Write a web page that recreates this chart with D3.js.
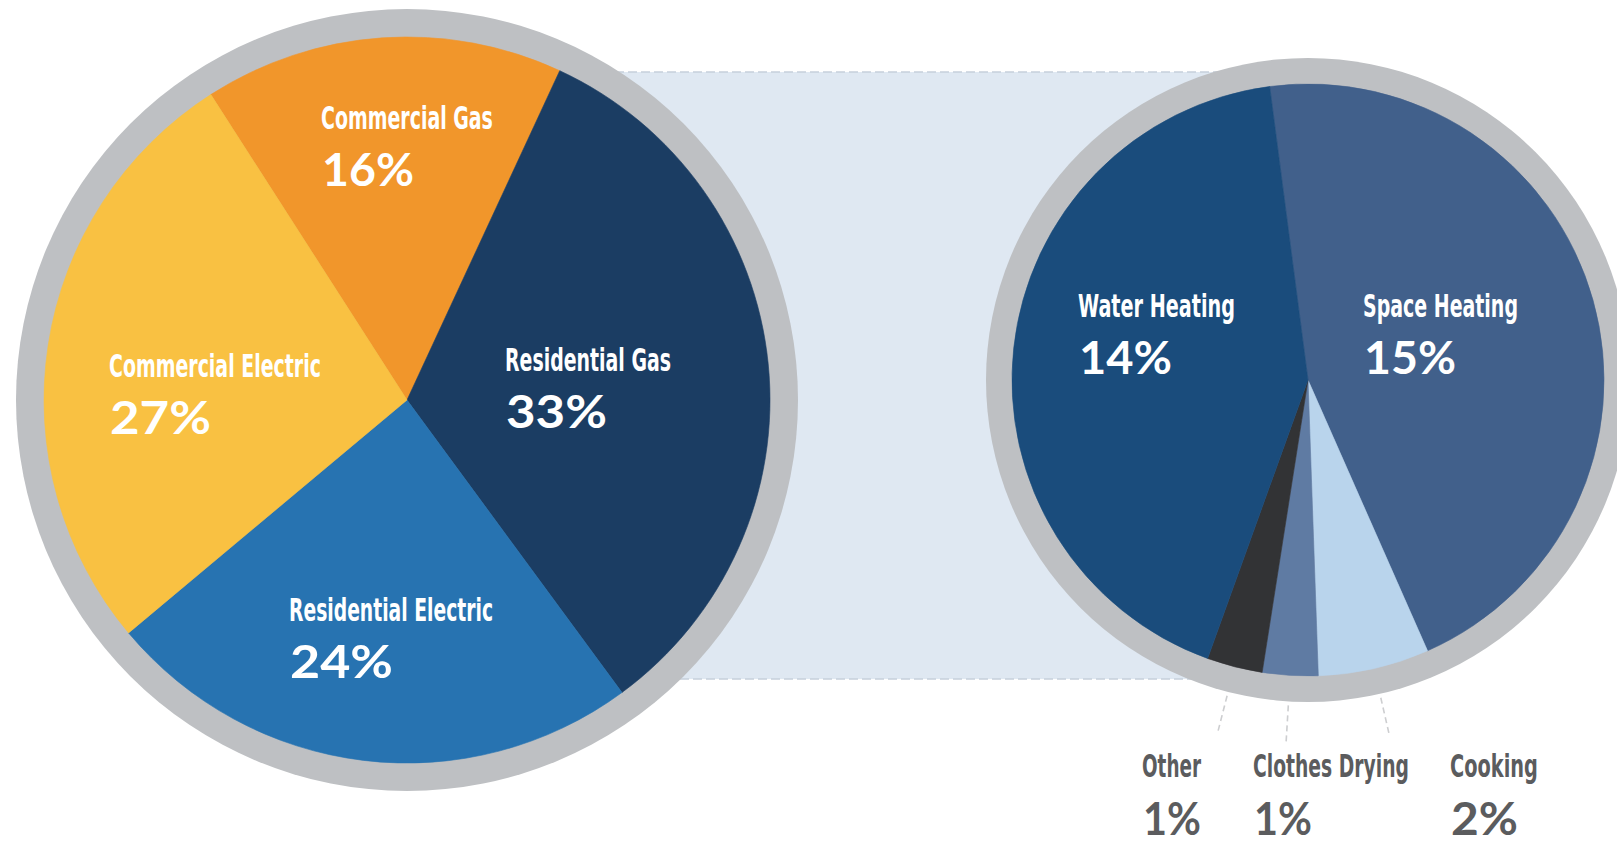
<!DOCTYPE html>
<html>
<head>
<meta charset="utf-8">
<script src="https://cdn.jsdelivr.net/npm/d3@7"></script>
<style>
  html, body { margin: 0; padding: 0; background: #ffffff; }
  svg { display: block; }
</style>
</head>
<body>
<script>
// ---------------- DATA ----------------
const mainCategories = ["Commercial Gas", "Residential Gas", "Residential Electric", "Commercial Electric"];
const mainValues = [16, 33, 24, 27];

const detailCategories = ["Space Heating", "Cooking", "Clothes Drying", "Other", "Water Heating"];
const detailValues = [15, 2, 1, 1, 14];

// ---------------- STYLE / LAYOUT ----------------
const W = 1617, H = 864;
const mainColors = ["#f1962b", "#1b3d63", "#2773b1", "#f9c142"];
const detailColors = ["#41608b", "#b9d4ec", "#5f7ba3", "#323335", "#1a4c7c"];

const L = { cx: 407, cy: 400, r: 363, ring: 391, start: -0.571 };
const R = { cx: 1308, cy: 380, r: 296, ring: 322, start: -0.13 };

// label placement relative to pie centre (layout only)
const mainLabelLayout = {
  "Commercial Gas":      { dx: -86,  dy: -271, nw: 172, pw: 92 },
  "Residential Gas":     { dx: 98,   dy: -29,  nw: 166, pw: 101 },
  "Residential Electric":{ dx: -118, dy: 221,  nw: 204, pw: 103 },
  "Commercial Electric": { dx: -298, dy: -23,  nw: 212, pw: 101 }
};
const detailLabelLayout = {
  "Space Heating":  { dx: 55,   dy: -63, nw: 155, pw: 92, out: false },
  "Cooking":        { dx: 142,  dy: 397, nw: 88,  pw: 67, out: true },
  "Clothes Drying": { dx: -55,  dy: 397, nw: 156, pw: 58, out: true },
  "Other":          { dx: -166, dy: 397, nw: 59,  pw: 58, out: true },
  "Water Heating":  { dx: -230, dy: -63, nw: 157, pw: 93, out: false }
};

const nameFont = "'Liberation Sans Narrow', 'DejaVu Sans Condensed', 'Roboto', sans-serif";
const pctFont = "'Lato', 'Open Sans', 'DejaVu Sans', sans-serif";
const nameSize = 32, pctSize = 45, gap = 57;

const svg = d3.select("body").append("svg")
  .attr("width", W).attr("height", H)
  .attr("viewBox", `0 0 ${W} ${H}`);

// ---------------- connecting band ----------------
const bandTop = 72, bandBottom = 679;
svg.append("rect")
  .attr("x", L.cx).attr("y", bandTop)
  .attr("width", R.cx - L.cx).attr("height", bandBottom - bandTop)
  .attr("fill", "#dfe8f2");
[bandTop, bandBottom].forEach(y => {
  svg.append("line")
    .attr("x1", L.cx).attr("x2", R.cx)
    .attr("y1", y).attr("y2", y)
    .attr("stroke", "#c6d0dc").attr("stroke-width", 1.3)
    .attr("stroke-dasharray", "9 4");
});

// ---------------- pie drawing helper ----------------
function drawPie(cfg, cats, vals, colors) {
  const data = cats.map((c, i) => ({ cat: c, v: vals[i], color: colors[i] }));
  const pie = d3.pie().sort(null).value(d => d.v)
    .startAngle(cfg.start).endAngle(cfg.start + 2 * Math.PI);
  const arcs = pie(data);
  const g = svg.append("g").attr("transform", `translate(${cfg.cx},${cfg.cy})`);
  g.append("circle").attr("r", cfg.ring).attr("fill", "#bec0c3");
  const arc = d3.arc().innerRadius(0).outerRadius(cfg.r);
  g.selectAll("path.slice").data(arcs).join("path")
    .attr("class", "slice")
    .attr("d", arc)
    .attr("fill", d => d.data.color)
    .attr("stroke", d => d.data.color)
    .attr("stroke-width", 0.6);
  return { g, arcs };
}

// text fitted to a target width with a horizontal scale (keeps real bbox accurate)
function fittedText(g, str, x, y, font, size, weight, color, targetW) {
  const t = g.append("text")
    .attr("x", 0).attr("y", 0)
    .attr("font-family", font).attr("font-weight", weight)
    .attr("font-size", size).attr("fill", color)
    .text(str);
  const natural = t.node().getComputedTextLength() || targetW;
  const sx = targetW / natural;
  t.attr("transform", `translate(${x},${y}) scale(${sx},1)`);
  return t;
}

function addLabel(g, d, lay, color) {
  fittedText(g, d.data.cat, lay.dx, lay.dy, nameFont, nameSize, 700, color, lay.nw);
  fittedText(g, d.data.v + "%", lay.dx + 1, lay.dy + gap + (lay.out ? 1 : 0),
             pctFont, pctSize, 700, color, lay.pw);
}

// ---------------- main pie ----------------
const main = drawPie(L, mainCategories, mainValues, mainColors);
main.arcs.forEach(d => addLabel(main.g, d, mainLabelLayout[d.data.cat], "#ffffff"));

// ---------------- detail pie ----------------
const detail = drawPie(R, detailCategories, detailValues, detailColors);
detail.arcs.forEach(d => {
  const lay = detailLabelLayout[d.data.cat];
  if (lay.out) {
    const a = (d.startAngle + d.endAngle) / 2;
    const r0 = R.ring + 4, r1 = R.ring + 40;
    detail.g.append("line")
      .attr("x1", r0 * Math.sin(a)).attr("y1", -r0 * Math.cos(a))
      .attr("x2", r1 * Math.sin(a)).attr("y2", -r1 * Math.cos(a))
      .attr("stroke", "#cdced0").attr("stroke-width", 1.6)
      .attr("stroke-dasharray", "6 4");
    addLabel(detail.g, d, lay, "#5b5c5e");
  } else {
    addLabel(detail.g, d, lay, "#ffffff");
  }
});
</script>
</body>
</html>
